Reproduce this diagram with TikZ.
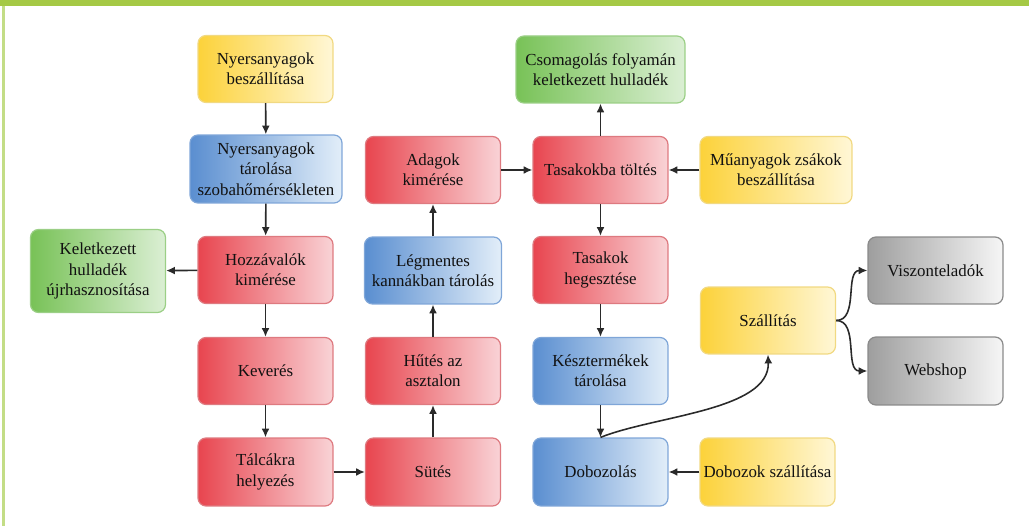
\documentclass[tikz,border=0pt]{standalone}
\usepackage{fontspec}
\setmainfont{Liberation Serif}
\usetikzlibrary{arrows.meta}
\definecolor{bandgreen}{HTML}{A5C945}
\definecolor{linegreen}{HTML}{C3DD86}
\definecolor{txt}{HTML}{111111}
\definecolor{redL}{HTML}{E8454F}\definecolor{redR}{HTML}{F9D3D6}\definecolor{redB}{HTML}{DE7A80}
\definecolor{bluL}{HTML}{5A8ED0}\definecolor{bluR}{HTML}{E2EEF9}\definecolor{bluB}{HTML}{7FA6D8}
\definecolor{grnL}{HTML}{78C257}\definecolor{grnR}{HTML}{DBEFD4}\definecolor{grnB}{HTML}{9BCF86}
\definecolor{yelL}{HTML}{FCD23A}\definecolor{yelR}{HTML}{FFF7D6}\definecolor{yelB}{HTML}{F1D982}
\definecolor{gryL}{HTML}{9E9E9E}\definecolor{gryR}{HTML}{F6F6F6}\definecolor{gryB}{HTML}{8A8A8A}
\definecolor{arrc}{HTML}{2A2A2A}
\tikzset{
  box/.style={rounded corners=0.16cm, minimum width=2.7cm, minimum height=1.34cm,
    align=center, text=txt, font=\fontsize{9.6}{11.6}\selectfont, line width=0.7pt, inner sep=1pt},
  redbox/.style={box, draw=redB, left color=redL, right color=redR},
  blubox/.style={box, draw=bluB, left color=bluL, right color=bluR},
  grnbox/.style={box, draw=grnB, left color=grnL, right color=grnR},
  yelbox/.style={box, draw=yelB, left color=yelL, right color=yelR},
  grybox/.style={box, draw=gryB, left color=gryL, right color=gryR},
  arr/.style={draw=arrc, line width=0.9pt, -{Latex[length=5pt,width=4.5pt]}}
}
\begin{document}
\begin{tikzpicture}[x=0.02cm, y=-0.02cm]
\useasboundingbox (0,0) rectangle (1029,526);
\fill[bandgreen] (0,0) rectangle (1029,6);
\fill[linegreen] (2,6) rectangle (4.5,526);

\node[yelbox] (n1) at (265.5,69) {Nyersanyagok\\beszállítása};
\node[blubox, minimum width=3.04cm, minimum height=1.36cm] (n2) at (266,169) {Nyersanyagok\\tárolása\\szobahőmérsékleten};
\node[grnbox, minimum height=1.66cm] (n3) at (98,271) {Keletkezett\\hulladék\\újrhasznosítása};
\node[redbox] (n4) at (265.5,270) {Hozzávalók\\kimérése};
\node[redbox] (n5) at (265.5,371) {Keverés};
\node[redbox, minimum height=1.36cm] (n6) at (265.5,472) {Tálcákra\\helyezés};
\node[redbox, minimum height=1.36cm] (n7) at (433,472) {Sütés};
\node[redbox] (n8) at (433,371) {Hűtés az\\asztalon};
\node[blubox, minimum width=2.74cm] (n9) at (433,270.5) {Légmentes\\kannákban tárolás};
\node[redbox] (n10) at (433,170) {Adagok\\kimérése};
\node[redbox] (n11) at (600.5,170) {Tasakokba töltés};
\node[grnbox, minimum width=3.38cm] (n12) at (600.5,69.5) {Csomagolás folyamán\\keletkezett hulladék};
\node[yelbox, minimum width=3.04cm] (n13) at (776,170) {Műanyagok zsákok\\beszállítása};
\node[redbox] (n14) at (600.5,270) {Tasakok\\hegesztése};
\node[blubox] (n15) at (600.5,371) {Késztermékek\\tárolása};
\node[blubox, minimum height=1.36cm] (n16) at (600.5,472) {Dobozolás};
\node[yelbox, minimum height=1.36cm] (n17) at (767.5,472) {Dobozok szállítása};
\node[yelbox] (n18) at (768,320.5) {Szállítás};
\node[grybox] (n19) at (935.5,270.5) {Viszonteladók};
\node[grybox, minimum height=1.36cm] (n20) at (935.5,371) {Webshop};

\draw[arr] (n1) -- (n2);
\draw[arr] (n2) -- (n4);
\draw[arr] (n4) -- (n3);
\draw[arr] (n4) -- (n5);
\draw[arr] (n5) -- (n6);
\draw[arr] (n6) -- (n7);
\draw[arr] (n7) -- (n8);
\draw[arr] (n8) -- (n9);
\draw[arr] (n9) -- (n10);
\draw[arr] (n10) -- (n11);
\draw[arr] (n11) -- (n12);
\draw[arr] (n13) -- (n11);
\draw[arr] (n11) -- (n14);
\draw[arr] (n14) -- (n15);
\draw[arr] (n15) -- (n16);
\draw[arr] (n17) -- (n16);
\draw[arr] (n16.north) .. controls +(55,-22) and +(2,56) .. (n18.south);
\draw[arr] (n18.east) to[out=0,in=180] (n19.west);
\draw[arr] (n18.east) to[out=0,in=180] (n20.west);
\end{tikzpicture}
\end{document}
